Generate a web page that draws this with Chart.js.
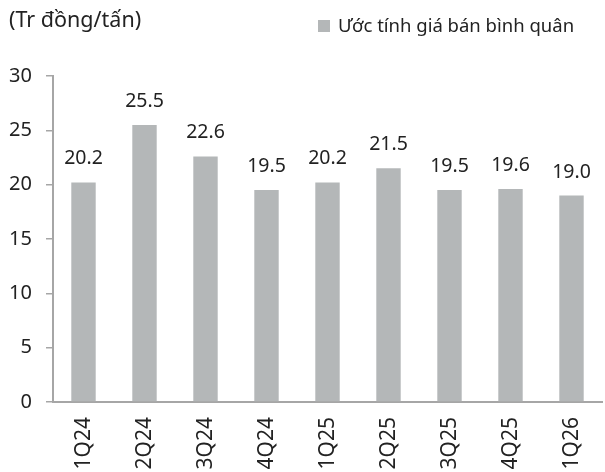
<!DOCTYPE html>
<html>
<head>
<meta charset="utf-8">
<script src="https://cdn.jsdelivr.net/npm/chart.js@4"></script>
<style>
  body { margin: 0; background: #fff; }
  #wrap { position: relative; width: 605px; height: 472px; }
</style>
</head>
<body>
<div id="wrap">
  <canvas id="priceChart" width="605" height="472"></canvas>
</div>
<script>
// Du lieu
const quarters = ['1Q24', '2Q24', '3Q24', '4Q24', '1Q25', '2Q25', '3Q25', '4Q25', '1Q26'];
const avgPrice = [20.2, 25.5, 22.6, 19.5, 20.2, 21.5, 19.5, 19.6, 19.0];
const yTicks = [0, 5, 10, 15, 20, 25, 30];
const unitLabel = '(Tr đồng/tấn)';

const fontFamily = '"Noto Sans", "Open Sans", sans-serif';
const barColor = '#b4b7b8';
const textColor = '#222';

// Ghi gia tri tren dau cot
const barLabels = {
  id: 'barLabels',
  afterDatasetsDraw(chart) {
    const ctx = chart.ctx;
    const meta = chart.getDatasetMeta(0);
    ctx.save();
    ctx.font = '19.5px ' + fontFamily;
    ctx.fillStyle = textColor;
    ctx.textAlign = 'center';
    ctx.textBaseline = 'alphabetic';
    meta.data.forEach((bar, i) => {
      ctx.fillText(avgPrice[i].toFixed(1), bar.x, bar.y - 18);
    });
    ctx.restore();
  }
};

// Nhan truc X xoay doc
const quarterLabels = {
  id: 'quarterLabels',
  afterDraw(chart) {
    const ctx = chart.ctx;
    const xScale = chart.scales.x;
    ctx.save();
    ctx.font = '21px ' + fontFamily;
    ctx.fillStyle = textColor;
    ctx.textAlign = 'right';
    ctx.textBaseline = 'middle';
    quarters.forEach((q, i) => {
      const x = xScale.getPixelForValue(i);
      ctx.save();
      ctx.translate(x + 1, xScale.top + 15);
      ctx.rotate(-Math.PI / 2);
      ctx.fillText(q, 0, 0);
      ctx.restore();
    });
    ctx.restore();
  }
};

// Don vi va chu thich o dau bieu do
const header = {
  id: 'header',
  afterDraw(chart) {
    const ctx = chart.ctx;
    ctx.save();
    ctx.fillStyle = textColor;
    ctx.textBaseline = 'middle';
    ctx.textAlign = 'left';
    ctx.font = '21.5px ' + fontFamily;
    ctx.fillText(unitLabel, 9, 21);

    ctx.fillStyle = barColor;
    ctx.fillRect(318, 20, 12, 12);
    ctx.fillStyle = textColor;
    ctx.font = '18.5px ' + fontFamily;
    ctx.fillText(chart.data.datasets[0].label, 338, 27);
    ctx.restore();
  }
};

document.addEventListener('DOMContentLoaded', function() {
  const ctx = document.getElementById('priceChart');
  new Chart(ctx, {
    type: 'bar',
    data: {
      labels: quarters,
      datasets: [{
        label: 'Ước tính giá bán bình quân',
        data: avgPrice,
        backgroundColor: barColor,
        categoryPercentage: 1,
        barPercentage: 0.4
      }]
    },
    options: {
      responsive: false,
      animation: false,
      layout: { padding: { left: 0, right: 3, top: 76, bottom: 0 } },
      scales: {
        x: {
          afterFit: function(axis) { axis.height = 70; },
          grid: { display: false },
          border: { display: true, color: '#a6a6a6', width: 2 },
          ticks: { display: false }
        },
        y: {
          min: 0,
          max: 30,
          afterFit: function(axis) { axis.width = 53; },
          afterBuildTicks: function(axis) {
            axis.ticks = yTicks.map(v => ({ value: v }));
          },
          grid: {
            display: true,
            drawOnChartArea: false,
            drawTicks: true,
            tickLength: 7,
            color: '#a6a6a6',
            lineWidth: 1.5
          },
          border: { display: true, color: '#a6a6a6', width: 2 },
          ticks: {
            color: textColor,
            font: { family: fontFamily, size: 20 },
            padding: 14
          }
        }
      },
      plugins: {
        legend: { display: false },
        tooltip: { enabled: false }
      }
    },
    plugins: [barLabels, quarterLabels, header]
  });
});
</script>
</body>
</html>
